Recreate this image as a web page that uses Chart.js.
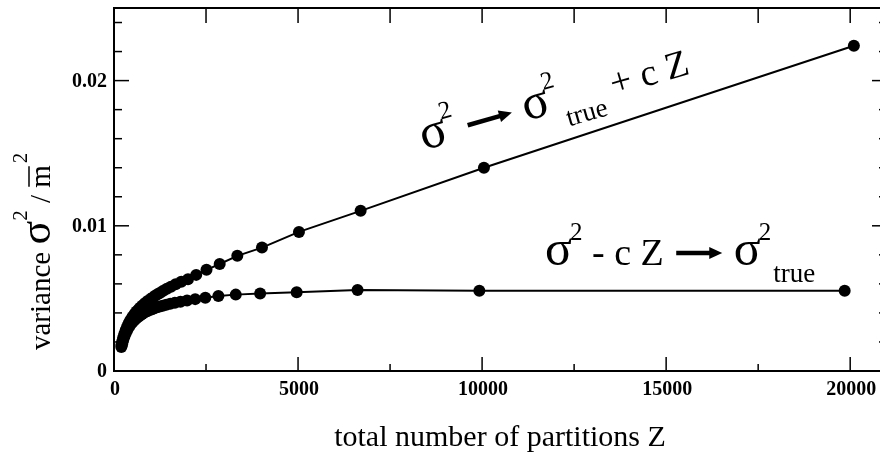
<!DOCTYPE html>
<html>
<head>
<meta charset="utf-8">
<script src="https://cdn.jsdelivr.net/npm/chart.js@4.4.0/dist/chart.umd.min.js"></script>
<style>
  html, body { margin: 0; padding: 0; background: #fff; overflow: hidden; }
  #wrap { width: 900px; height: 460px; }
</style>
</head>
<body>
<div id="wrap"><canvas id="varChart" width="900" height="460"></canvas></div>
<script>
// sigma^2 -> sigma^2_true + c Z  (upper curve)
const zUpper = [201, 223, 251, 283, 319, 359, 402, 447, 503, 558, 609, 670, 718, 773, 838, 914,
  1005, 1058, 1117, 1182, 1256, 1340, 1436, 1546, 1675, 1827, 2010, 2233, 2513, 2871, 3350,
  4020, 5025, 6700, 10050, 20100];
const varUpper = [0.0018, 0.00203, 0.0023, 0.00257, 0.00283, 0.00307, 0.0033, 0.00351, 0.00373,
  0.00392, 0.00409, 0.00425, 0.00438, 0.00451, 0.00466, 0.00482, 0.00498, 0.00507, 0.00518,
  0.00529, 0.00539, 0.00552, 0.00566, 0.0058, 0.00597, 0.00615, 0.00632, 0.00662, 0.00697,
  0.00737, 0.00793, 0.0085, 0.00958, 0.01103, 0.0140, 0.0224];

// sigma^2 - c Z -> sigma^2_true  (lower curve)
const zLower = [199, 221, 248, 280, 315, 354, 397, 441, 496, 551, 602, 662, 709, 763, 827, 902,
  993, 1045, 1103, 1168, 1241, 1323, 1418, 1527, 1654, 1805, 1985, 2206, 2481, 2836, 3308,
  3970, 4963, 6617, 9925, 19850];
const varLower = [0.00165, 0.00185, 0.0021, 0.00235, 0.00258, 0.00279, 0.00299, 0.00316, 0.00334,
  0.00349, 0.00362, 0.00374, 0.00383, 0.00392, 0.00402, 0.00412, 0.00422, 0.00427, 0.00433,
  0.00439, 0.00444, 0.0045, 0.00457, 0.00463, 0.0047, 0.00477, 0.00486, 0.00495, 0.00504,
  0.00517, 0.00526, 0.00534, 0.00542, 0.00558, 0.00553, 0.00553];

const xMajorTicks = [0, 5000, 10000, 15000, 20000];
const xTickLabels = ["0", "5000", "10000", "15000", "20000"];
const xMinorTicks = [2500, 7500, 12500, 17500];
const yMajorTicks = [0, 0.01, 0.02];
const yTickLabels = ["0", "0.01", "0.02"];
const yMinorTicks = [0.002, 0.004, 0.006, 0.008, 0.012, 0.014, 0.016, 0.018, 0.022, 0.024];

const xTitle = "total number of partitions Z";

const toPoints = (xs, ys) => xs.map((x, i) => ({ x: x, y: ys[i] }));

const SERIF = '"Liberation Serif", "Times New Roman", serif';

// draws a run of text pieces (with super/subscripts and an arrow) along a rotated baseline
const drawRich = (ctx, x, y, angle, pieces) => {
  ctx.save();
  ctx.translate(x, y);
  ctx.rotate(angle);
  ctx.fillStyle = "#000";
  ctx.textBaseline = "alphabetic";
  ctx.textAlign = "left";
  let cx = 0;
  pieces.forEach((p) => {
    cx += p.dx || 0;
    if (p.arrow) {
      const ay = -p.rise;
      ctx.beginPath();
      ctx.lineWidth = 4.5;
      ctx.strokeStyle = "#000";
      ctx.moveTo(cx, ay);
      ctx.lineTo(cx + p.arrow - 10, ay);
      ctx.stroke();
      ctx.beginPath();
      ctx.moveTo(cx + p.arrow, ay);
      ctx.lineTo(cx + p.arrow - 13, ay - 6);
      ctx.lineTo(cx + p.arrow - 13, ay + 6);
      ctx.closePath();
      ctx.fill();
      cx += p.arrow;
      return;
    }
    ctx.font = (p.bold ? "bold " : "") + p.size + "px " + SERIF;
    ctx.fillText(p.t, cx, p.dy || 0);
    const w = ctx.measureText(p.t).width;
    if (p.bar) {
      ctx.beginPath();
      ctx.lineWidth = 1.5;
      ctx.moveTo(cx + 1, p.bar);
      ctx.lineTo(cx + w - 1, p.bar);
      ctx.stroke();
    }
    cx += w;
  });
  ctx.restore();
};

const framePlugin = {
  id: "framePlugin",
  afterDraw(chart) {
    const ctx = chart.ctx;
    const a = chart.chartArea;
    const xs = chart.scales.x;
    const ys = chart.scales.y;
    ctx.save();

    // frame
    ctx.strokeStyle = "#000";
    ctx.lineWidth = 2;
    ctx.strokeRect(a.left, a.top, a.right - a.left, a.bottom - a.top);

    // ticks
    ctx.lineWidth = 1.5;
    const tick = (x1, y1, x2, y2) => {
      ctx.beginPath();
      ctx.moveTo(x1, y1);
      ctx.lineTo(x2, y2);
      ctx.stroke();
    };
    xMajorTicks.forEach((v) => {
      const px = xs.getPixelForValue(v);
      tick(px, a.bottom, px, a.bottom - 14);
      tick(px, a.top, px, a.top + 15);
    });
    xMinorTicks.forEach((v) => {
      const px = xs.getPixelForValue(v);
      tick(px, a.bottom, px, a.bottom - 7);
      tick(px, a.top, px, a.top + 15);
    });
    yMajorTicks.forEach((v) => {
      const py = ys.getPixelForValue(v);
      tick(a.left, py, a.left + 15, py);
      tick(a.right, py, a.right - 15, py);
    });
    yMinorTicks.forEach((v) => {
      const py = ys.getPixelForValue(v);
      tick(a.left, py, a.left + 8, py);
      tick(a.right, py, a.right - 8, py);
    });

    // tick labels
    ctx.fillStyle = "#000";
    ctx.font = "bold 20px " + SERIF;
    ctx.textAlign = "center";
    ctx.textBaseline = "top";
    xMajorTicks.forEach((v, i) => {
      ctx.fillText(xTickLabels[i], xs.getPixelForValue(v) + 1, a.bottom + 9);
    });
    ctx.textAlign = "right";
    ctx.textBaseline = "middle";
    yMajorTicks.forEach((v, i) => {
      ctx.fillText(yTickLabels[i], a.left - 7, ys.getPixelForValue(v) + 1);
    });

    // x title
    ctx.font = "30px " + SERIF;
    ctx.textAlign = "center";
    ctx.textBaseline = "alphabetic";
    ctx.fillText(xTitle, 500, 446);

    // y title
    drawRich(ctx, 50, 350, -Math.PI / 2, [
      { t: "variance ", size: 29 },
      { t: "\u03C3", size: 44 },
      { t: "2", size: 21, dy: -23, dx: 0 },
      { t: " / ", size: 29 },
      { t: "m", size: 29, bar: -21 },
      { t: "2", size: 21, dy: -23, dx: 2 }
    ]);

    // annotations
    const ux = xs.getPixelForValue(8420), uy = ys.getPixelForValue(0.0152);
    drawRich(ctx, ux, uy, -16 * Math.PI / 180, [
      { t: "\u03C3", size: 50 },
      { t: "2", size: 25, dy: -25, dx: -2 },
      { t: " ", size: 38 },
      { arrow: 46, rise: 12, dx: 2 },
      { t: " ", size: 38 },
      { t: "\u03C3", size: 50, dx: 2 },
      { t: "2", size: 25, dy: -25, dx: -2 },
      { t: "true", size: 27, dy: 17, dx: 2 },
      { t: " + c Z", size: 38 }
    ]);
    const lx = xs.getPixelForValue(11710), ly = ys.getPixelForValue(0.0073);
    drawRich(ctx, lx, ly, 0, [
      { t: "\u03C3", size: 50 },
      { t: "2", size: 25, dy: -25, dx: -2 },
      { t: " - c Z ", size: 38 },
      { arrow: 46, rise: 12, dx: 3 },
      { t: " ", size: 38 },
      { t: "\u03C3", size: 50, dx: 2 },
      { t: "2", size: 25, dy: -25, dx: -2 },
      { t: "true", size: 27, dy: 17, dx: 2 }
    ]);

    ctx.restore();
  }
};

const seriesStyle = {
  showLine: true,
  borderColor: "#000",
  borderWidth: 2,
  backgroundColor: "#000",
  pointRadius: 6,
  pointBorderWidth: 0,
  pointBackgroundColor: "#000",
  tension: 0
};

new Chart(document.getElementById("varChart"), {
  type: "scatter",
  data: {
    datasets: [
      { label: "sigma2 -> sigma2_true + cZ", data: toPoints(zUpper, varUpper), ...seriesStyle },
      { label: "sigma2 - cZ -> sigma2_true", data: toPoints(zLower, varLower), ...seriesStyle }
    ]
  },
  options: {
    responsive: false,
    animation: false,
    devicePixelRatio: 1,
    layout: { padding: { left: 114, top: 8, right: 13, bottom: 89 } },
    plugins: { legend: { display: false }, tooltip: { enabled: false } },
    scales: {
      x: { type: "linear", min: 0, max: 21000, display: false },
      y: { type: "linear", min: 0, max: 0.025, display: false }
    }
  },
  plugins: [framePlugin]
});
</script>
</body>
</html>
